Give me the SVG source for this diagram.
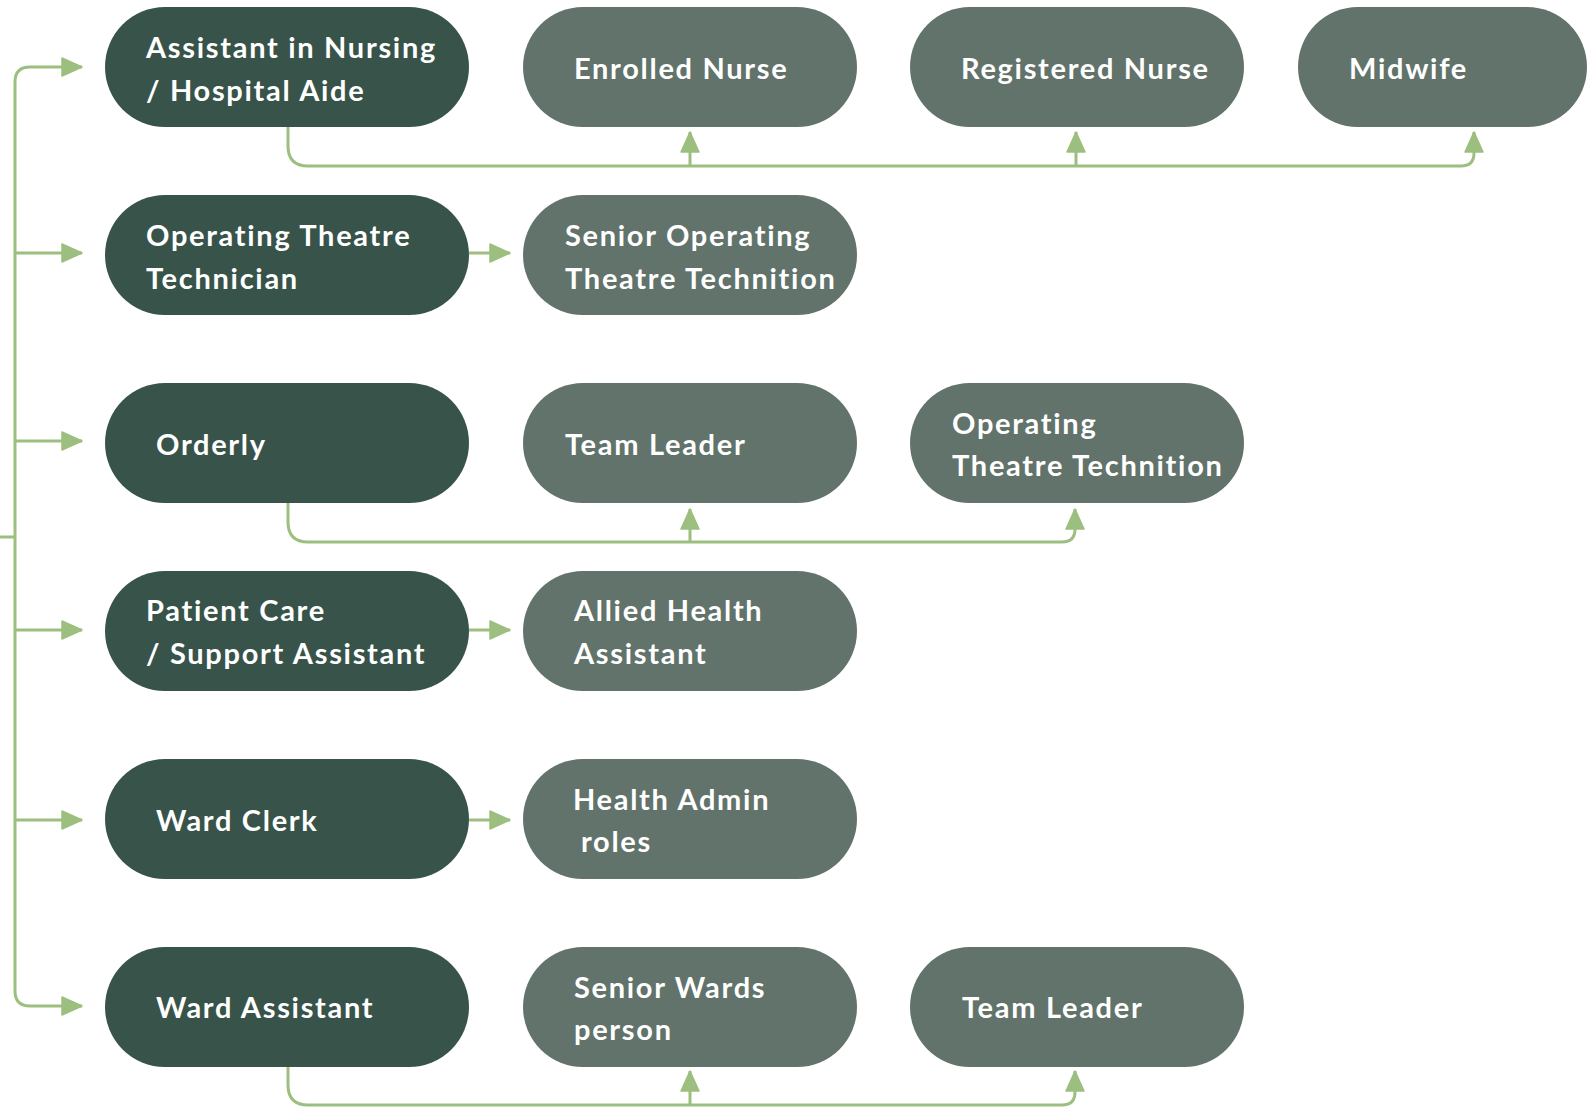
<svg xmlns="http://www.w3.org/2000/svg" width="1595" height="1108" viewBox="0 0 1595 1108">
<style>
.dark{fill:#37534a}
.light{fill:#61736a}
.t{fill:#ffffff;font-family:Lato,"Open Sans","Liberation Sans",sans-serif;font-weight:700;font-size:29px;letter-spacing:1.7px;font-variant-ligatures:none}
.c{fill:none;stroke:#9cbf7f;stroke-width:3}
</style>
<defs>
<marker id="ah" markerUnits="userSpaceOnUse" markerWidth="22" markerHeight="20" refX="20" refY="9" orient="auto" viewBox="-1 -1 22 20">
<path d="M0,0 L20,9 L0,18 z" fill="#9cbf7f" stroke="#9cbf7f" stroke-width="1.5" stroke-linejoin="round"/>
</marker>
</defs>
<g id="connectors">
<path class="c" d="M0,537 H15"/>
<path class="c" d="M15,537 V82 Q15,67 30,67 H82" marker-end="url(#ah)"/>
<path class="c" d="M15,537 V991 Q15,1006 30,1006 H82" marker-end="url(#ah)"/>
<path class="c" d="M15,253 H82" marker-end="url(#ah)"/>
<path class="c" d="M15,441 H82" marker-end="url(#ah)"/>
<path class="c" d="M15,630 H82" marker-end="url(#ah)"/>
<path class="c" d="M15,820 H82" marker-end="url(#ah)"/>
<path class="c" d="M469,253 H510" marker-end="url(#ah)"/>
<path class="c" d="M469,630 H510" marker-end="url(#ah)"/>
<path class="c" d="M469,820 H510" marker-end="url(#ah)"/>
<path class="c" d="M288,127 V146 Q288,166 308,166 H1461 Q1474,166 1474,153 V132" marker-end="url(#ah)"/>
<path class="c" d="M690,166 V132" marker-end="url(#ah)"/>
<path class="c" d="M1076,166 V132" marker-end="url(#ah)"/>
<path class="c" d="M288,502 V522 Q288,542 308,542 H1062 Q1075,542 1075,529 V509" marker-end="url(#ah)"/>
<path class="c" d="M690,542 V509" marker-end="url(#ah)"/>
<path class="c" d="M288,1066 V1085 Q288,1105 308,1105 H1062 Q1075,1105 1075,1092 V1071" marker-end="url(#ah)"/>
<path class="c" d="M690,1105 V1071" marker-end="url(#ah)"/>
</g>
<g id="n-ain"><rect class="dark" x="105" y="7" width="364" height="120" rx="60"/><text class="t" x="146" y="58">Assistant in Nursing</text><text class="t" x="146" y="101">/ Hospital Aide</text></g>
<g id="n-en"><rect class="light" x="523" y="7" width="334" height="120" rx="60"/><text class="t" x="574" y="79">Enrolled Nurse</text></g>
<g id="n-rn"><rect class="light" x="910" y="7" width="334" height="120" rx="60"/><text class="t" x="961" y="79">Registered Nurse</text></g>
<g id="n-mw"><rect class="light" x="1298" y="7" width="289" height="120" rx="60"/><text class="t" x="1349" y="79">Midwife</text></g>
<g id="n-ott"><rect class="dark" x="105" y="195" width="364" height="120" rx="60"/><text class="t" x="146" y="246">Operating Theatre</text><text class="t" x="146" y="289">Technician</text></g>
<g id="n-sott"><rect class="light" x="523" y="195" width="334" height="120" rx="60"/><text class="t" x="565" y="246">Senior Operating</text><text class="t" x="565" y="289">Theatre Technition</text></g>
<g id="n-ord"><rect class="dark" x="105" y="383" width="364" height="120" rx="60"/><text class="t" x="156" y="455">Orderly</text></g>
<g id="n-tl1"><rect class="light" x="523" y="383" width="334" height="120" rx="60"/><text class="t" x="565" y="455">Team Leader</text></g>
<g id="n-ott2"><rect class="light" x="910" y="383" width="334" height="120" rx="60"/><text class="t" x="952" y="434">Operating</text><text class="t" x="952" y="476">Theatre Technition</text></g>
<g id="n-pcsa"><rect class="dark" x="105" y="571" width="364" height="120" rx="60"/><text class="t" x="146" y="621">Patient Care</text><text class="t" x="146" y="664">/ Support Assistant</text></g>
<g id="n-aha"><rect class="light" x="523" y="571" width="334" height="120" rx="60"/><text class="t" x="574" y="621">Allied Health</text><text class="t" x="574" y="664">Assistant</text></g>
<g id="n-wc"><rect class="dark" x="105" y="759" width="364" height="120" rx="60"/><text class="t" x="156" y="831">Ward Clerk</text></g>
<g id="n-har"><rect class="light" x="523" y="759" width="334" height="120" rx="60"/><text class="t" x="573" y="810">Health Admin</text><text class="t" x="581" y="852">roles</text></g>
<g id="n-wa"><rect class="dark" x="105" y="947" width="364" height="120" rx="60"/><text class="t" x="156" y="1018">Ward Assistant</text></g>
<g id="n-swp"><rect class="light" x="523" y="947" width="334" height="120" rx="60"/><text class="t" x="574" y="998">Senior Wards</text><text class="t" x="574" y="1040">person</text></g>
<g id="n-tl2"><rect class="light" x="910" y="947" width="334" height="120" rx="60"/><text class="t" x="962" y="1018">Team Leader</text></g>
</svg>
